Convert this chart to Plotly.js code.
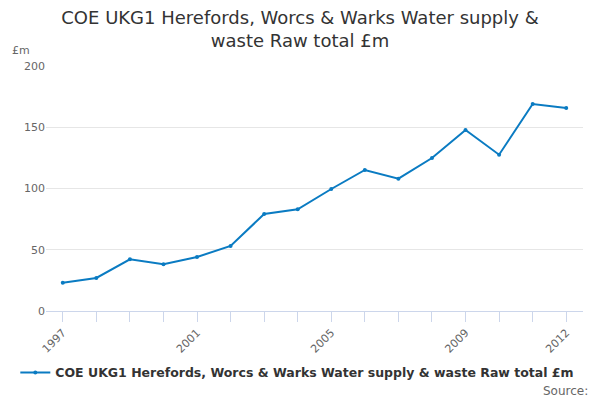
<!DOCTYPE html>
<html>
<head>
<meta charset="utf-8">
<script src="https://cdn.plot.ly/plotly-3.0.1.min.js"></script>
<style>
  body { margin: 0; }
  #chart { width: 600px; height: 400px; }
</style>
</head>
<body>
<div id="chart"></div>
<script>
const years = [1997, 1998, 1999, 2000, 2001, 2002, 2003, 2004, 2005, 2006, 2007, 2008, 2009, 2010, 2011, 2012]
const rawTotal = [23.1, 27, 42.2, 38.1, 44.1, 53.1, 79.2, 83, 99.6, 115.1, 108, 124.9, 147.8, 127.6, 169, 165.7]
const labelledYears = [1997, 2001, 2005, 2009, 2012]
const yTicks = [0, 50, 100, 150, 200]

const seriesName = 'COE UKG1 Herefords, Worcs & Warks Water supply & waste Raw total £m'

let trace = {
  x: years,
  y: rawTotal,
  name: seriesName,
  type: 'scatter',
  mode: 'lines+markers',
  line: { color: '#0a7bc2', width: 2 },
  marker: { color: '#0a7bc2', size: 4 },
  hoverinfo: 'x+y'
}

let layout = {
  width: 600,
  height: 400,
  margin: { l: 46, r: 17, t: 66, b: 89 },
  paper_bgcolor: '#ffffff',
  plot_bgcolor: '#ffffff',
  font: { family: 'DejaVu Sans, sans-serif', color: '#666666' },
  title: {
    text: 'COE UKG1 Herefords, Worcs & Warks Water supply &<br>waste Raw total £m',
    font: { size: 18, color: '#333333' },
    x: 0.5,
    xanchor: 'center',
    y: 0.94,
    yanchor: 'middle'
  },
  xaxis: {
    range: [1996.5, 2012.5],
    tickvals: years,
    ticktext: years.map(y => labelledYears.includes(y) ? String(y) : ''),
    tickangle: -45,
    ticks: 'outside',
    ticklen: 10,
    tickcolor: '#ccd6eb',
    showline: true,
    linecolor: '#ccd6eb',
    showgrid: false,
    zeroline: false,
    tickfont: { size: 11, color: '#666666' },
    fixedrange: true
  },
  yaxis: {
    range: [0, 200],
    tickvals: yTicks,
    showgrid: true,
    gridcolor: '#e6e6e6',
    zeroline: false,
    showline: false,
    ticks: '',
    tickfont: { size: 11, color: '#666666' },
    fixedrange: true
  },
  showlegend: true,
  legend: {
    orientation: 'h',
    x: 0.468,
    xanchor: 'center',
    y: -0.253,
    yanchor: 'middle',
    font: { size: 12.5, color: '#333333', weight: 'bold' },
    itemwidth: 30
  },
  annotations: [
    {
      text: '£m',
      xref: 'paper', yref: 'paper',
      x: -0.0466, y: 1.063,
      xanchor: 'center', yanchor: 'middle',
      showarrow: false,
      font: { size: 11, color: '#666666' }
    },
    {
      text: 'Source:',
      xref: 'paper', yref: 'paper',
      x: 1.013, y: -0.325,
      xanchor: 'right', yanchor: 'middle',
      showarrow: false,
      font: { size: 12, color: '#666666' }
    }
  ]
}

Plotly.newPlot('chart', [trace], layout, { displayModeBar: false, staticPlot: true })
</script>
</body>
</html>
